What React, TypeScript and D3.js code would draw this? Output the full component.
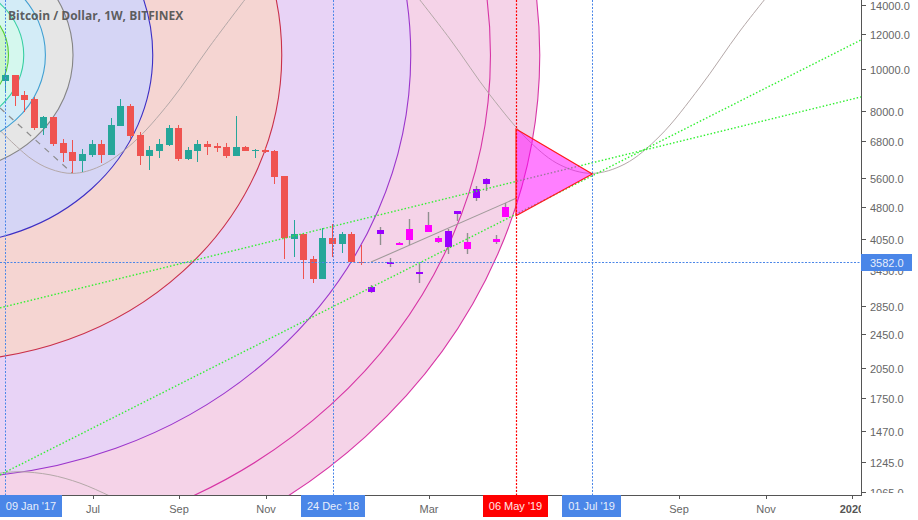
import React from "react";
import * as d3 from "d3";

const FIRST_REAL_PROJECTION = 38;
const opens = [9364,9667,8696,8514,7303,7741,6746,6432,6132,6330,6710,6330,7381,8205,7037,6297,6466,6675,7303,6198,6466,6710,6640,6604,6297,6604,6466,6500,6466,5664,4059,4168,3652,3285,4081,3954,4168,3594,3066,4168,3556,3975,4280,3373,4372,4081,3892,4633,3996,5042,5430,4059,4807];
const highs = [9979,9667,8882,8604,7782,7741,6890,6854,6535,6854,6854,7700,8514,8292,7150,6640,6890,7420,7420,6604,6854,6818,6746,6746,7782,6640,6535,6604,6500,5664,4488,4168,3711,4302,4395,4212,4212,3933,3183,4325,3672,3996,4512,3556,4682,4124,4280,4707,4190,5373,5605,4146,4911];
const lows = [8835,8205,7949,7226,7037,6640,6100,5756,5786,6264,6068,6330,7381,6890,6004,5848,6231,6640,6132,6165,6100,6330,6432,6231,6297,6466,6231,6398,5430,3652,3691,3285,3217,3285,3691,3770,3594,3537,3050,3933,3500,3933,3933,3217,4212,3975,3750,4464,3750,4963,5233,3954,4559];
const closes = [9667,8650,8469,7303,7741,6710,6398,6132,6364,6710,6330,7420,8205,7000,6297,6500,6710,7303,6198,6500,6710,6604,6570,6297,6604,6466,6500,6432,5635,4081,4168,3632,3285,4081,3954,4168,3594,3575,3149,4257,3594,3933,4038,3409,4212,3996,4235,4707,3851,5288,5575,3996,4559];

const priceTicks = [14000,12000,10000,8000,6800,5600,4800,4050,3450,2850,2450,2050,1750,1470,1245,1065];
const timeTicks: [number, string][] = [[9,"Jul"],[18,"Sep"],[27,"Nov"],[44,"Mar"],[70,"Sep"],[79,"Nov"]];
const yearTick: [number, string] = [87.95,"2020"];

const fibRatios = [4.618,4.236,3.618,2.618,1.618,1,0.786,0.618,0.5];
const fibFills = ["#f5d3e8","#f5d3e8","#e8d3f6","#f5d5d2","#d5d5f5","#e6e6e6","#d3ecf7","#d5f8ee","#c9f6cb"];
const fibStrokes = ["#d735a5","#d735a5","#9b36cc","#c9304a","#3d2fc4","#858585","#3f9fd2","#38cfa3","#55cc33"];
const fibCenterWeek = -6.39;
const fibCenterPrice = 10745;
const fibUnitWeeks = 13.41;
const fibUnitPrice = 5786;

const sineWeeksA = [-0.57,2.55,4.63,7.02,9.82,13.25,17.1,21.26,25.41];
const sinePricesA = [7208,6231,5879,5740,5960,6746,8380,11270,14917];
const sineWeeksB = [42.05,46.2,50.36,54.52,57.65,60.97,64.4,68.03,72.2,76.35,80];
const sinePricesB = [15366,11695,8696,6782,6004,5741,6036,7000,9070,12200,15437];
const sineWeeksC = [-0.57,1.5,4.63,7.74,10.86,12.4];
const sinePricesC = [1175,1183,1164,1114,1040,1000];

const dashedWeeks = [-0.57,6.91];
const dashedPrices = [8118,5756];
const greenUpperPrices = [2817,8604];
const greenLowerPrices = [1164,11633];
const greenWeeks = [-0.57,88.93];
const trendWeeks = [38,53.07];
const trendPrices = [3590,5030];
const triangleWeeks = [53.07,61,53.07];
const trianglePrices = [7260,5725,4585];

const blueMarkers: [number, string, number][] = [[0,"09 Jan '17",62],[34,"24 Dec '18",64],[61,"01 Jul '19",59]];
const redMarker: [number, string, number] = [53.07,"06 May '19",65];
const crossPrice = 3582;

const BLUE = "#4a86e8";
const W = 861, H = 495;
const x = d3.scaleLinear().domain([-0.57, 88.93]).range([0, W]);
const y = d3.scaleLog().domain([1046, 14375]).range([H, 0]);
const FONT = "'Liberation Sans', Arial, sans-serif";

const curve = (ws: number[], ps: number[]) =>
  d3.line<number>().x((w) => x(w)).y((_, i) => y(ps[i])).curve(d3.curveCatmullRom.alpha(0.5))(ws) || "";
const poly = (ws: number[], ps: number[]) =>
  d3.line<number>().x((w) => x(w)).y((_, i) => y(ps[i]))(ws) || "";
const markX = (w: number) => Math.round(x(w));

export default function App() {
  const cx = x(fibCenterWeek), cy = y(fibCenterPrice);
  const rx = x(fibCenterWeek + fibUnitWeeks) - cx;
  const ry = y(fibUnitPrice) - cy;
  const crossY = Math.round(y(crossPrice)) + 0.5;

  return (
    <svg width={918} height={520} style={{ position: "absolute", left: 0, top: 0, background: "#fff" }}>
      <defs>
        <clipPath id="plot"><rect x={0} y={0} width={W} height={H} /></clipPath>
        <clipPath id="yaxis"><rect x={W} y={0} width={57} height={493} /></clipPath>
        <clipPath id="xaxis"><rect x={0} y={H} width={W} height={25} /></clipPath>
      </defs>
      <g clipPath="url(#plot)">
        {fibRatios.map((k, i) => (
          <ellipse key={k} cx={cx} cy={cy} rx={rx * k} ry={ry * k} fill={fibFills[i]} stroke="none" />
        ))}
        {fibRatios.map((k, i) => (
          <ellipse key={k} cx={cx} cy={cy} rx={rx * k} ry={ry * k} fill="none" stroke={fibStrokes[i]} strokeWidth={1.1} />
        ))}
        <path d={curve(sineWeeksA, sinePricesA)} fill="none" stroke="#b4a8a8" strokeWidth={1} />
        <path d={curve(sineWeeksB, sinePricesB)} fill="none" stroke="#b4a8a8" strokeWidth={1} />
        <path d={curve(sineWeeksC, sinePricesC)} fill="none" stroke="#b4a8a8" strokeWidth={1} />
        <path d={poly(dashedWeeks, dashedPrices)} fill="none" stroke="#8c8c8c" strokeWidth={1.2} strokeDasharray="6 6" />

        {opens.map((o, i) => {
          const c = closes[i];
          const projected = i >= FIRST_REAL_PROJECTION;
          const up = c > o;
          const color = projected ? (up ? "#9900ff" : "#ff00ff") : up ? "#26a69a" : "#ef5350";
          const left = Math.floor(x(i));
          const top = Math.round(y(Math.max(o, c)));
          const bot = Math.round(y(Math.min(o, c)));
          return (
            <g key={i}>
              <line
                x1={left + 0.5} x2={left + 0.5}
                y1={Math.round(y(highs[i]))} y2={Math.round(y(lows[i]))}
                stroke={projected ? "#8f8f8f" : color}
                strokeWidth={projected ? 1.4 : 1}
              />
              <rect x={left - 3} y={top} width={7} height={Math.max(1, bot - top)} fill={color} />
            </g>
          );
        })}

        <path d={poly(trendWeeks, trendPrices)} fill="none" stroke="#a09a9a" strokeWidth={1.1} />
        <path d={poly(greenWeeks, greenUpperPrices)} fill="none" stroke="#33f033" strokeWidth={1.4} strokeDasharray="1.5 2" />
        <path d={poly(greenWeeks, greenLowerPrices)} fill="none" stroke="#33f033" strokeWidth={1.4} strokeDasharray="1.5 2" />

        <line x1={0} x2={W} y1={crossY} y2={crossY} stroke={BLUE} strokeWidth={1} strokeDasharray="2 1.5" />
        {blueMarkers.map(([w]) => (
          <line key={w} x1={markX(w) + 0.5} x2={markX(w) + 0.5} y1={0} y2={H} stroke={BLUE} strokeWidth={1} strokeDasharray="2 1.5" />
        ))}
        <path
          d={poly(triangleWeeks, trianglePrices) + "Z"}
          fill="#ff00ff" fillOpacity={0.5} stroke="#ff1a1a" strokeWidth={1.2}
        />
        <line x1={markX(redMarker[0]) + 0.5} x2={markX(redMarker[0]) + 0.5} y1={0} y2={H} stroke="#ff0000" strokeWidth={1.2} strokeDasharray="2 1.5" />
      </g>

      <text x={8} y={20} fontFamily="'Open Sans', sans-serif" fontWeight={700} fontSize={12} fill="#555" fillOpacity={0.95}>
        Bitcoin / Dollar, 1W, BITFINEX
      </text>

      <line x1={0} x2={W + 0.5} y1={H + 0.5} y2={H + 0.5} stroke="#555" />
      <line x1={W + 0.5} x2={W + 0.5} y1={0} y2={H + 1} stroke="#555" />

      <g clipPath="url(#yaxis)" fontFamily={FONT} fontSize={11} fill="#666">
        {priceTicks.map((p) => (
          <g key={p}>
            <line x1={W} x2={W + 5} y1={Math.round(y(p)) + 0.5} y2={Math.round(y(p)) + 0.5} stroke="#555" />
            <text x={870} y={y(p) + 5}>{p.toFixed(1)}</text>
          </g>
        ))}
      </g>

      <g fontFamily={FONT} fontSize={11} fill="#666" textAnchor="middle">
        {timeTicks.map(([w, t]) => (
          <g key={w}>
            <line x1={Math.ceil(x(w)) + 0.5} x2={Math.ceil(x(w)) + 0.5} y1={H} y2={H + 4} stroke="#555" />
            <text x={Math.ceil(x(w))} y={513}>{t}</text>
          </g>
        ))}
      </g>
      <g clipPath="url(#xaxis)">
        <line x1={Math.ceil(x(yearTick[0])) + 0.5} x2={Math.ceil(x(yearTick[0])) + 0.5} y1={H} y2={H + 4} stroke="#555" />
        <text x={Math.ceil(x(yearTick[0]))} y={513} fontFamily={FONT} fontSize={11} fontWeight={700} fill="#555" textAnchor="middle">{yearTick[1]}</text>
      </g>

      <rect x={W} y={crossY - 8.5} width={51} height={17} fill={BLUE} />
      <text x={870} y={crossY + 4} fontFamily={FONT} fontSize={11} fill="#e8eefb">{crossPrice.toFixed(1)}</text>

      {blueMarkers.map(([w, t, bw]) => {
        const left = Math.max(0, Math.floor(markX(w) - bw / 2));
        return (
          <g key={w}>
            <rect x={left} y={H} width={bw} height={22} fill={BLUE} />
            <text x={left + bw / 2} y={510} fontFamily={FONT} fontSize={11} fill="#e8eefb" textAnchor="middle">{t}</text>
          </g>
        );
      })}
      <rect x={Math.floor(markX(redMarker[0]) - redMarker[2] / 2)} y={H} width={redMarker[2]} height={22} fill="#ff0000" />
      <text x={Math.floor(markX(redMarker[0]) - redMarker[2] / 2) + redMarker[2] / 2} y={510} fontFamily={FONT} fontSize={11} fill="#ffe8e8" textAnchor="middle">{redMarker[1]}</text>
    </svg>
  );
}
